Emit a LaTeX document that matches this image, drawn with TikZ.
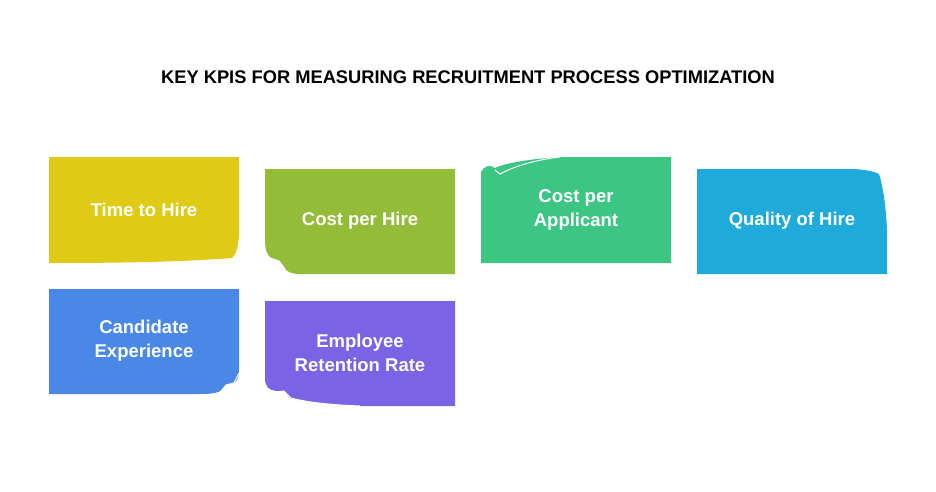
\documentclass[tikz,border=0pt]{standalone}
\usepackage{fontspec}
\setmainfont{Liberation Sans}
\definecolor{cy}{HTML}{DFCB15}
\definecolor{cg}{HTML}{93BD39}
\definecolor{cmint}{HTML}{3DC583}
\definecolor{cb}{HTML}{1FAAD9}
\definecolor{cx}{HTML}{4A88E6}
\definecolor{cp}{HTML}{7B63E6}
\begin{document}
\begin{tikzpicture}[x=1pt,y=-1pt,
  lbl/.style={text=white,font=\bfseries\fontsize{18.5}{24}\selectfont,align=center},
  fold/.style={draw=white,line width=1pt}]
\useasboundingbox (0,0) rectangle (936,492);
\node[font=\bfseries\fontsize{18.3}{22}\selectfont] (title) at (468,77) {KEY KPIS FOR MEASURING RECRUITMENT PROCESS OPTIMIZATION};
% 1 bottom-right curl
\fill[cy] (49,157) -- (239,157) -- (239,235) .. controls (238,248) and (236,254) .. (232,258) .. controls (180,262) and (120,263) .. (49,263) -- cycle;
\node[lbl] (a) at (144,210) {Time to Hire};
% 2 bottom-left curl
\fill[cg] (265,169) -- (455,169) -- (455,274) -- (300,274) .. controls (292,274) and (287,272) .. (284,268) -- (279,261) -- (272,259) .. controls (267,255) and (265,250) .. (265,240) -- cycle;
\draw[fold] (270,258) -- (279,261) -- (285,269);
\node[lbl] (b) at (360,221) {Cost per Hire};
% 3 top-left curl
\fill[cmint] (481,263) -- (671,263) -- (671,157) -- (560,157) .. controls (530,159) and (505,163) .. (495,168) .. controls (490,164) and (484,166) .. (481,172) -- cycle;
\draw[fold] (495,170) -- (500,174) .. controls (515,166) and (535,160) .. (560,157);
\node[lbl] (c) at (576,210) {Cost per\\Applicant};
% 4 top-right curl
\fill[cb] (697,169) -- (855,169) .. controls (865,170) and (873,171) .. (879,174) .. controls (884,190) and (886,210) .. (887,230) -- (887,274) -- (697,274) -- cycle;
\node[lbl] (d) at (792,221) {Quality of Hire};
% 5 bottom-right curl
\fill[cx] (49,289) -- (239,289) -- (239,370) .. controls (239,378) and (237,381) .. (234,383) -- (226,385) -- (222,390) .. controls (218,393) and (212,394) .. (200,394) -- (49,394) -- cycle;
\draw[fold] (239,373) -- (234,383) -- (226,385) -- (221,391);
\node[lbl] (e) at (144,341) {Candidate\\Experience};
% 6 bottom-left curl
\fill[cp] (265,301) -- (455,301) -- (455,406) -- (360,406) .. controls (330,405) and (305,402) .. (290,398) -- (284,391) -- (276,391) .. controls (269,390) and (265,387) .. (265,378) -- cycle;
\draw[fold] (276,392) -- (284,391) -- (291,398) .. controls (310,403) and (335,405) .. (360,406);
\node[lbl] (f) at (360,353) {Employee\\Retention Rate};
\end{tikzpicture}
\end{document}
